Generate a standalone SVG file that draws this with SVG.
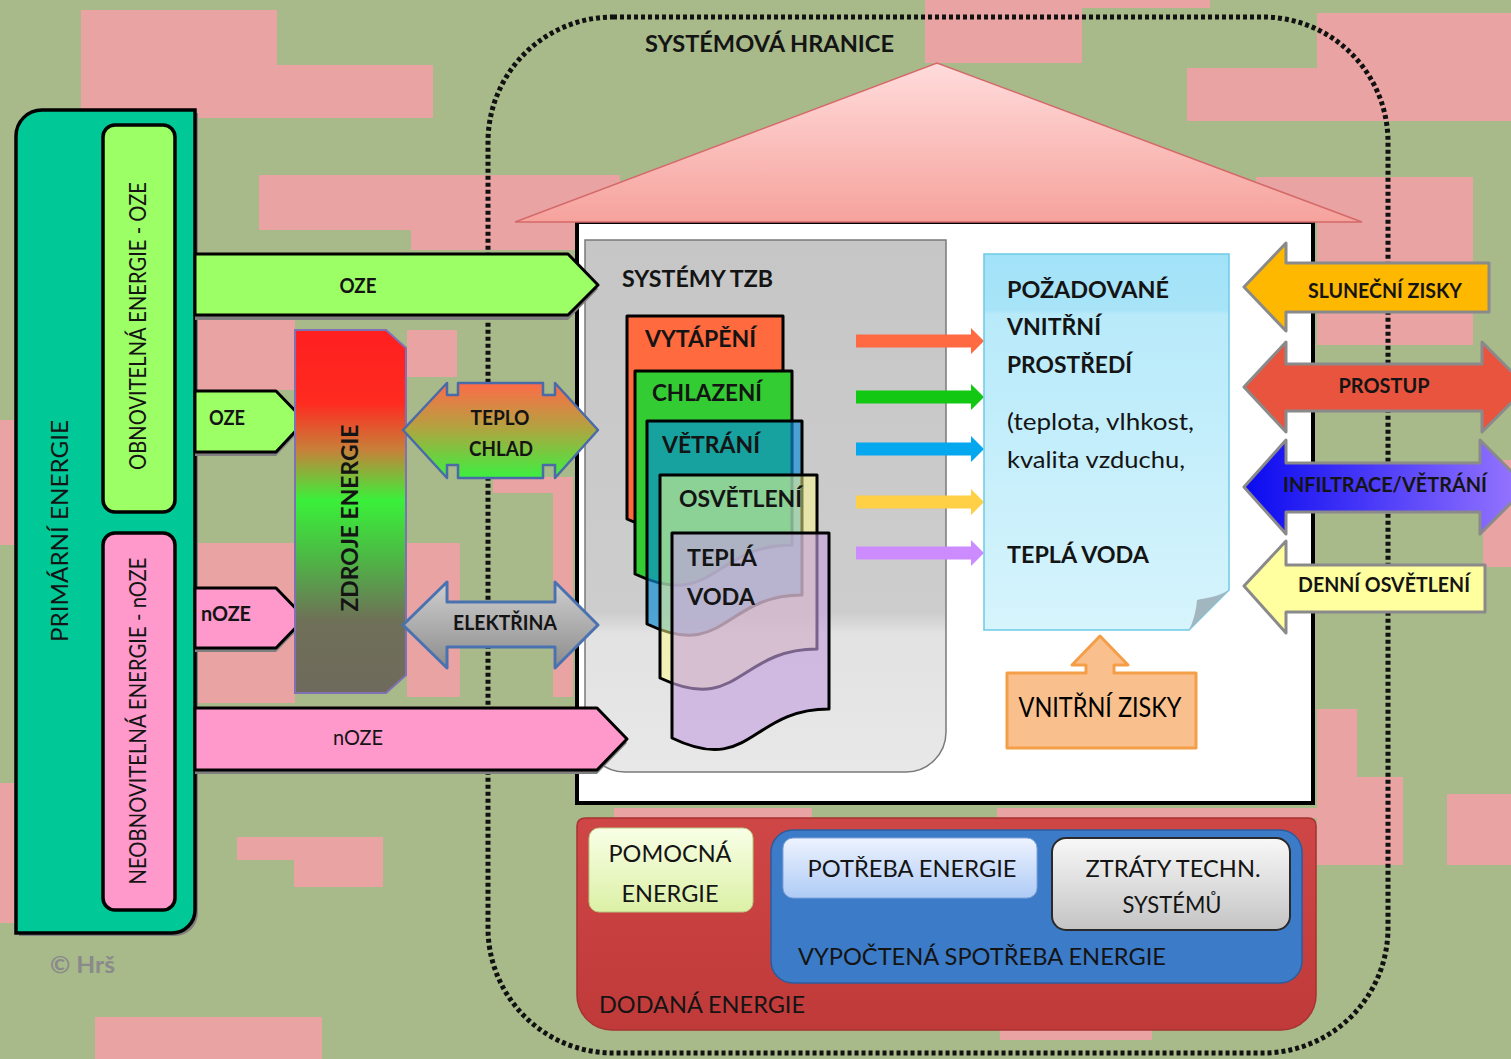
<svg xmlns="http://www.w3.org/2000/svg" width="1511" height="1059" viewBox="0 0 1511 1059">
<defs>
<style>
text{font-family:Lato,"Liberation Sans","DejaVu Sans",sans-serif;fill:#141414}
.b{font-weight:bold}
.k{stroke:#000;stroke-width:3;stroke-linejoin:round}
.pg{stroke:#000;stroke-width:3;stroke-linejoin:round}
.sh{fill:#7f7f7f}
.ra{stroke:#8a8a8a;stroke-width:3;stroke-linejoin:round}
.pk{fill:#e9a3a3}
</style>
<linearGradient id="gZdroje" x1="0" y1="0" x2="0" y2="1">
<stop offset="0" stop-color="#ff1f1f"/>
<stop offset="0.2" stop-color="#ff2a20"/>
<stop offset="0.33" stop-color="#c8803a"/>
<stop offset="0.47" stop-color="#3af03a"/>
<stop offset="0.62" stop-color="#4cba44"/>
<stop offset="0.8" stop-color="#6f7058"/>
<stop offset="1" stop-color="#6f6a5c"/>
</linearGradient>
<linearGradient id="gTeplo" x1="0" y1="0" x2="0" y2="1">
<stop offset="0" stop-color="#ff6a48"/>
<stop offset="0.45" stop-color="#b6a040"/>
<stop offset="1" stop-color="#3cf040"/>
</linearGradient>
<linearGradient id="gElek" x1="0" y1="0" x2="0" y2="1">
<stop offset="0" stop-color="#cfcfcf"/>
<stop offset="1" stop-color="#8c8c8c"/>
</linearGradient>
<linearGradient id="gRoof" x1="0" y1="0" x2="0" y2="1">
<stop offset="0" stop-color="#ffdcdc"/>
<stop offset="1" stop-color="#f6a29c"/>
</linearGradient>
<linearGradient id="gPanel" x1="0" y1="0" x2="0" y2="1">
<stop offset="0" stop-color="#c6c6c6"/>
<stop offset="0.7" stop-color="#cdcdcd"/>
<stop offset="0.74" stop-color="#e2e2e2"/>
<stop offset="1" stop-color="#e8e8e8"/>
</linearGradient>
<linearGradient id="gNote" x1="0" y1="0" x2="0" y2="1">
<stop offset="0" stop-color="#a2e2f8"/>
<stop offset="0.15" stop-color="#a8e4f8"/>
<stop offset="0.16" stop-color="#b8eafa"/>
<stop offset="1" stop-color="#d6f4fc"/>
</linearGradient>
<linearGradient id="gInf" x1="0" y1="0" x2="1" y2="0">
<stop offset="0" stop-color="#0a0af0"/>
<stop offset="0.45" stop-color="#4a3af8"/>
<stop offset="1" stop-color="#9a78ff"/>
</linearGradient>
<linearGradient id="gRed" x1="0" y1="0" x2="0" y2="1">
<stop offset="0" stop-color="#cf4646"/>
<stop offset="1" stop-color="#c03a3a"/>
</linearGradient>
<linearGradient id="gPom" x1="0" y1="0" x2="0" y2="1">
<stop offset="0" stop-color="#f8ffe6"/>
<stop offset="1" stop-color="#dcf0a6"/>
</linearGradient>
<linearGradient id="gPot" x1="0" y1="0" x2="0" y2="1">
<stop offset="0" stop-color="#eef3ff"/>
<stop offset="1" stop-color="#aecbf6"/>
</linearGradient>
<linearGradient id="gZtr" x1="0" y1="0" x2="0" y2="1">
<stop offset="0" stop-color="#f8f8f8"/>
<stop offset="1" stop-color="#c4c4c4"/>
</linearGradient>
</defs>

<!-- background -->
<g id="background">
<rect x="0" y="0" width="1511" height="1059" fill="#a8b98a"/>
<rect class="pk" x="81" y="10" width="196" height="108"/>
<rect class="pk" x="277" y="65" width="156" height="53"/>
<rect class="pk" x="259" y="175" width="361" height="55"/>
<rect class="pk" x="411" y="230" width="209" height="20"/>
<rect class="pk" x="925" y="0" width="157" height="63"/>
<rect class="pk" x="1082" y="0" width="128" height="8"/>
<rect class="pk" x="1317" y="13" width="194" height="55"/>
<rect class="pk" x="1187" y="68" width="324" height="53"/>
<rect class="pk" x="1256" y="177" width="217" height="45"/>
<rect class="pk" x="1317" y="222" width="156" height="123"/>
<rect class="pk" x="1483" y="460" width="28" height="107"/>
<rect class="pk" x="1317" y="709" width="40" height="68"/>
<rect class="pk" x="1317" y="777" width="86" height="88"/>
<rect class="pk" x="1447" y="794" width="64" height="71"/>
<rect class="pk" x="0" y="783" width="14" height="140"/>
<rect class="pk" x="0" y="420" width="14" height="125"/>
<rect class="pk" x="237" y="837" width="146" height="23"/>
<rect class="pk" x="294" y="860" width="89" height="27"/>
<rect class="pk" x="95" y="1017" width="227" height="42"/>
<rect class="pk" x="197" y="318" width="98" height="72"/>
<rect class="pk" x="197" y="543" width="98" height="160"/>
<rect class="pk" x="407" y="330" width="50" height="47"/>
<rect class="pk" x="407" y="543" width="53" height="154"/>
<rect class="pk" x="493" y="477" width="80" height="16"/>
<rect class="pk" x="553" y="493" width="20" height="204"/>
<rect class="pk" x="614" y="808" width="198" height="10"/>
<rect class="pk" x="997" y="808" width="333" height="10"/>
<rect class="pk" x="1000" y="1028" width="152" height="12"/>
</g>

<!-- system boundary -->
<g id="system-boundary">
<rect x="488" y="17" width="900" height="1036" rx="125" fill="none" stroke="#111" stroke-width="5" stroke-dasharray="4 3"/>
<text class="b" x="645" y="52" font-size="22" textLength="249" lengthAdjust="spacingAndGlyphs">SYSTÉMOVÁ HRANICE</text>
</g>

<!-- house -->
<g id="house">
<rect x="577" y="222" width="736" height="581" fill="#fff" stroke="#000" stroke-width="4"/>
<polygon points="515,222 937,63 1362,222" fill="url(#gRoof)" stroke="#d46a6a" stroke-width="1.5"/>
</g>

<!-- primary energy panel -->
<g id="primary-energy">
<path d="M19,139 A26,26 0 0 1 45,113 H198 V913 A23,23 0 0 1 175,936 H19 Z" class="sh"/>
<path d="M16,136 A26,26 0 0 1 42,110 H195 V910 A23,23 0 0 1 172,933 H16 Z" fill="#00c896" stroke="#000" stroke-width="3.5"/>
<text x="68" y="531" font-size="23" text-anchor="middle" textLength="222" lengthAdjust="spacingAndGlyphs" transform="rotate(-90 68 531)">PRIMÁRNÍ ENERGIE</text>
</g>
<g id="renewable">
<rect x="103" y="125" width="72" height="387" rx="12" fill="#9cff66" stroke="#000" stroke-width="3.5"/>
<text x="146" y="326" font-size="23" text-anchor="middle" textLength="288" lengthAdjust="spacingAndGlyphs" transform="rotate(-90 146 326)">OBNOVITELNÁ ENERGIE - OZE</text>
</g>
<g id="nonrenewable">
<rect x="103" y="533" width="72" height="377" rx="12" fill="#ff99cc" stroke="#000" stroke-width="3.5"/>
<text x="146" y="721" font-size="23" text-anchor="middle" textLength="327" lengthAdjust="spacingAndGlyphs" transform="rotate(-90 146 721)">NEOBNOVITELNÁ ENERGIE - nOZE</text>
</g>

<!-- systems TZB panel -->
<g id="systemy-tzb">
<path d="M585,240 H946 V732 A40,40 0 0 1 906,772 H625 A40,40 0 0 1 585,732 Z" fill="url(#gPanel)" stroke="#7a7a7a" stroke-width="1.5"/>
<text class="b" x="622" y="287" font-size="23" textLength="151" lengthAdjust="spacingAndGlyphs">SYSTÉMY TZB</text>
</g>

<!-- source arrows -->
<g id="connectors">
<polygon class="sh" points="195,258 568,258 598,289 568,320 195,320"/>
<polygon class="k" points="195,254 568,254 598,285 568,315 195,315" fill="#9cff66"/>
<polygon class="sh" points="195,395 276,395 305,425 276,456 195,456"/>
<polygon class="k" points="195,391 276,391 305,421 276,452 195,452" fill="#9cff66"/>
<polygon class="sh" points="195,592 276,592 305,622 276,652 195,652"/>
<polygon class="k" points="195,588 276,588 305,618 276,648 195,648" fill="#ff99cc"/>
<polygon class="sh" points="195,712 597,712 627,743 597,774 195,774"/>
<polygon class="k" points="195,708 597,708 627,739 597,770 195,770" fill="#ff99cc"/>
<path d="M856,334.5 H971 V328 L984,341 L971,354 V347.5 H856 Z" fill="#ff6a42"/>
<path d="M856,390.5 H971 V384 L984,397 L971,410 V403.5 H856 Z" fill="#12c812"/>
<path d="M856,442.5 H971 V436 L984,449 L971,462 V455.5 H856 Z" fill="#05a8ee"/>
<path d="M856,495.5 H971 V489 L984,502 L971,515 V508.5 H856 Z" fill="#ffd045"/>
<path d="M856,546.5 H971 V540 L984,553 L971,566 V559.5 H856 Z" fill="#cc8cff"/>
</g>
<g id="oze-big"><text class="b" x="358" y="293" font-size="21" text-anchor="middle" textLength="37" lengthAdjust="spacingAndGlyphs">OZE</text></g>
<g id="oze-small"><text class="b" x="227" y="425" font-size="21" text-anchor="middle" textLength="36" lengthAdjust="spacingAndGlyphs">OZE</text></g>
<g id="noze-small"><text class="b" x="226" y="621" font-size="21" text-anchor="middle" textLength="50" lengthAdjust="spacingAndGlyphs">nOZE</text></g>
<g id="noze-big"><text x="358" y="745" font-size="21" text-anchor="middle" textLength="50" lengthAdjust="spacingAndGlyphs">nOZE</text></g>

<!-- zdroje energie -->
<g id="zdroje-energie">
<path d="M295,330 H386 L406,348 V675 L386,693 H295 Z" fill="url(#gZdroje)" stroke="#8070b4" stroke-width="2"/>
<text class="b" x="358" y="518" font-size="23" text-anchor="middle" textLength="187" lengthAdjust="spacingAndGlyphs" transform="rotate(-90 358 518)">ZDROJE ENERGIE</text>
</g>

<g id="teplo-chlad">
<path d="M403,430 L447,383 V395 H458 V383 H543 V395 H555 V383 L598,430 L555,478 V465 H543 V478 H458 V465 H447 V478 Z" fill="url(#gTeplo)" stroke="#4a6aa8" stroke-width="2.5" stroke-linejoin="round"/>
<text class="b" x="500" y="425" font-size="20" text-anchor="middle" textLength="59" lengthAdjust="spacingAndGlyphs">TEPLO</text>
<text class="b" x="501" y="456" font-size="20" text-anchor="middle" textLength="64" lengthAdjust="spacingAndGlyphs">CHLAD</text>
</g>

<g id="elektrina">
<path d="M403,625 L447,582 V602 H555 V582 L598,625 L555,668 V647 H447 V668 Z" fill="url(#gElek)" stroke="#4a72b0" stroke-width="3" stroke-linejoin="round"/>
<text class="b" x="505" y="630" font-size="20" text-anchor="middle" textLength="104" lengthAdjust="spacingAndGlyphs">ELEKTŘINA</text>
</g>

<!-- pages -->
<g id="vytapeni">
<path class="pg" d="M627,316 H783 V490 C705,490 705,556 627,519 Z" fill="#ff6a3e"/>
<text class="b" x="645" y="347" font-size="23" textLength="111" lengthAdjust="spacingAndGlyphs">VYTÁPĚNÍ</text>
</g>
<g id="chlazeni">
<path class="pg" d="M635,371 H792 V545 C713.5,545 713.5,611 635,574 Z" fill="#33cc33"/>
<text class="b" x="652" y="401" font-size="23" textLength="110" lengthAdjust="spacingAndGlyphs">CHLAZENÍ</text>
</g>
<g id="vetrani">
<path d="M647,421 H802 V595 C724.5,595 724.5,661 647,624 Z" fill="#0a8cd8" fill-opacity="0.66" stroke="#000" stroke-width="3" stroke-linejoin="round"/>
<text class="b" x="662" y="453" font-size="23" textLength="98" lengthAdjust="spacingAndGlyphs">VĚTRÁNÍ</text>
</g>
<g id="osvetleni">
<path d="M660,475 H817 V649 C738.5,649 738.5,715 660,678 Z" fill="#ffff8c" fill-opacity="0.5" stroke="#000" stroke-width="3" stroke-linejoin="round"/>
<text class="b" x="679" y="507" font-size="23" textLength="123" lengthAdjust="spacingAndGlyphs">OSVĚTLENÍ</text>
</g>
<g id="tepla-voda-system">
<path d="M672,533 H829 V709 C750.5,709 750.5,776 672,738 Z" fill="#c4a0e0" fill-opacity="0.62" stroke="#000" stroke-width="3" stroke-linejoin="round"/>
<text class="b" x="687" y="566" font-size="23" textLength="70" lengthAdjust="spacingAndGlyphs">TEPLÁ</text>
<text class="b" x="687" y="605" font-size="23" textLength="68" lengthAdjust="spacingAndGlyphs">VODA</text>
</g>

<!-- required indoor environment -->
<g id="pozadovane-prostredi">
<path d="M984,254 H1229 V590 L1189,630 H984 Z" fill="url(#gNote)" stroke="#6ccae6" stroke-width="1.5"/>
<path d="M1189,630 L1229,590 C1215,598 1205,598 1197,600 C1196,612 1193,622 1189,630 Z" fill="#a2b6c0"/>
<text class="b" x="1007" y="298" font-size="23" textLength="162" lengthAdjust="spacingAndGlyphs">POŽADOVANÉ</text>
<text class="b" x="1007" y="335" font-size="23" textLength="94" lengthAdjust="spacingAndGlyphs">VNITŘNÍ</text>
<text class="b" x="1007" y="373" font-size="23" textLength="125" lengthAdjust="spacingAndGlyphs">PROSTŘEDÍ</text>
<text x="1007" y="430" font-size="23" fill="#333" textLength="187" lengthAdjust="spacingAndGlyphs">(teplota, vlhkost,</text>
<text x="1007" y="468" font-size="23" fill="#333" textLength="178" lengthAdjust="spacingAndGlyphs">kvalita vzduchu,</text>
<text class="b" x="1007" y="563" font-size="23" textLength="142" lengthAdjust="spacingAndGlyphs">TEPLÁ VODA</text>
</g>

<!-- external influences -->
<g id="slunecni-zisky">
<path class="ra" d="M1244,287 L1286,243 V263 H1489 V312 H1286 V331 Z" fill="#ffb800"/>
<text class="b" x="1385" y="298" font-size="20" text-anchor="middle" textLength="154" lengthAdjust="spacingAndGlyphs">SLUNEČNÍ ZISKY</text>
</g>
<g id="prostup">
<path class="ra" d="M1244,387 L1286,342 V364 H1482 V342 L1527,387 L1482,432 V411 H1286 V432 Z" fill="#e8543e"/>
<text class="b" x="1384" y="393" font-size="20" text-anchor="middle" textLength="91" lengthAdjust="spacingAndGlyphs">PROSTUP</text>
</g>
<g id="infiltrace">
<path class="ra" d="M1244,487 L1286,440 V463 H1480 V440 L1527,487 L1480,534 V512 H1286 V534 Z" fill="url(#gInf)"/>
<text class="b" x="1385" y="492" font-size="20" text-anchor="middle" textLength="204" lengthAdjust="spacingAndGlyphs">INFILTRACE/VĚTRÁNÍ</text>
</g>
<g id="denni-osvetleni">
<path class="ra" d="M1244,586 L1286,541 V565 H1485 V612 H1286 V633 Z" fill="#ffffa0"/>
<text class="b" x="1384" y="592" font-size="20" text-anchor="middle" textLength="172" lengthAdjust="spacingAndGlyphs">DENNÍ OSVĚTLENÍ</text>
</g>
<g id="vnitrni-zisky">
<path d="M1007,673 H1086 V665 H1072 L1100,636 L1128,665 H1114 V673 H1196 V748 H1007 Z" fill="#f9c08e" stroke="#f59e48" stroke-width="3" stroke-linejoin="round"/>
<text x="1100" y="717" font-size="26" text-anchor="middle" textLength="163" lengthAdjust="spacingAndGlyphs" style="fill:#000">VNITŘNÍ ZISKY</text>
</g>

<!-- energy balance -->
<g id="dodana-energie">
<path d="M586,818 H1308 Q1316,818 1316,826 V995 A35,35 0 0 1 1281,1030 H612 A35,35 0 0 1 577,995 V826 Q577,818 586,818 Z" fill="url(#gRed)" stroke="#a83232" stroke-width="1.5"/>
<text x="599" y="1013" font-size="23" textLength="206" lengthAdjust="spacingAndGlyphs">DODANÁ ENERGIE</text>
</g>
<g id="vypoctena-spotreba">
<rect x="771" y="830" width="531" height="153" rx="22" fill="#3c7bc8" stroke="#2c5c9c" stroke-width="1.5"/>
<text x="798" y="965" font-size="23" textLength="368" lengthAdjust="spacingAndGlyphs">VYPOČTENÁ SPOTŘEBA ENERGIE</text>
</g>
<g id="pomocna-energie">
<rect x="589" y="828" width="164" height="84" rx="10" fill="url(#gPom)" stroke="#b8c880" stroke-width="1"/>
<text x="670" y="862" font-size="23" text-anchor="middle" textLength="123" lengthAdjust="spacingAndGlyphs">POMOCNÁ</text>
<text x="670" y="902" font-size="23" text-anchor="middle" textLength="97" lengthAdjust="spacingAndGlyphs">ENERGIE</text>
</g>
<g id="potreba-energie">
<rect x="783" y="838" width="254" height="60" rx="10" fill="url(#gPot)" stroke="#7fa4d8" stroke-width="1"/>
<text x="912" y="877" font-size="23" text-anchor="middle" textLength="209" lengthAdjust="spacingAndGlyphs">POTŘEBA ENERGIE</text>
</g>
<g id="ztraty">
<rect x="1052" y="838" width="238" height="92" rx="14" fill="url(#gZtr)" stroke="#2a2a2a" stroke-width="2"/>
<text x="1173" y="877" font-size="23" text-anchor="middle" textLength="175" lengthAdjust="spacingAndGlyphs">ZTRÁTY TECHN.</text>
<text x="1172" y="913" font-size="23" text-anchor="middle" textLength="99" lengthAdjust="spacingAndGlyphs">SYSTÉMŮ</text>
</g>

<g id="copyright">
<text class="b" x="50" y="973" font-size="22" style="fill:#8a8a8a" textLength="65" lengthAdjust="spacingAndGlyphs">© Hrš</text>
</g>
</svg>
